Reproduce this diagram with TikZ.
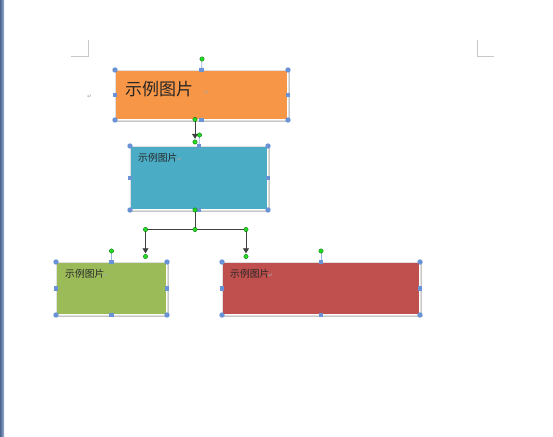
\documentclass[tikz,border=0pt]{standalone}
\usepackage{fontspec}
\newfontfamily\cjk{Noto Sans CJK SC}
\newfontfamily\dvs{DejaVu Sans}
\usetikzlibrary{arrows.meta}
\definecolor{cOrange}{HTML}{F79646}
\definecolor{cBlue}{HTML}{4BACC6}
\definecolor{cGreen}{HTML}{9BBB59}
\definecolor{cRed}{HTML}{C0504D}
\definecolor{cHandle}{HTML}{6A93D6}
\definecolor{cDot}{HTML}{22DD22}
\definecolor{cMark}{HTML}{C8C8C8}
\definecolor{cBar}{HTML}{5A7DB5}
\tikzset{
  shapebox/.style={draw=white, line width=1.6pt, inner sep=0pt, outer sep=0pt, anchor=north west},
  boxframe/.style={draw=black!12, line width=0.6pt},
  boxshadow/.style={fill=black!22},
  handle/.style={fill=cHandle},
  rothandle/.style={draw=cHandle!70, line width=0.8pt},
  greendot/.style={fill=cDot, draw=green!40!black, line width=0.3pt},
  conn/.style={draw=black!75, line width=0.8pt},
  arr/.style={conn, -{Triangle[width=6pt,length=5pt]}},
  bigtext/.style={font=\cjk\fontsize{17}{17}\selectfont, anchor=west, inner sep=0pt, text=black!85},
  smalltext/.style={font=\cjk\fontsize{9.8}{10}\selectfont, anchor=west, inner sep=0pt, text=black!85},
  retmark/.style={font=\dvs\fontsize{6}{6}\selectfont, text=black!35, inner sep=0pt, anchor=west},
  cornermark/.style={draw=cMark, line width=0.8pt}
}
\newcommand{\boxhandles}[1]{%
  \foreach \a in {north west, north east, south west, south east}
    \fill[handle] (#1.\a) circle (2.7);
  \foreach \a in {north, south, west, east}
    \fill[handle] ([shift={(-2.4,-2.4)}]#1.\a) rectangle ++(4.8,4.8);
}
\begin{document}
\begin{tikzpicture}[x=1pt,y=-1pt]
\useasboundingbox (0,0) rectangle (553,436);
\fill[white] (0,0) rectangle (553,436);
% left window edge
\shade[left color=cBar!80!black, right color=cBar!60] (0,0) rectangle (4,436);
% page corner marks
\draw[cornermark] (88,40) -- (88,56) -- (71,56);
\draw[cornermark] (477,40) -- (477,56) -- (494,56);
\node[retmark] (pm) at (87,97) {↵};

% shadows
\fill[boxshadow] (116.5,71.5) rectangle (289.5,121.5);
\fill[boxshadow] (131.5,147.5) rectangle (269.5,211.5);
\fill[boxshadow] (57.5,263.5) rectangle (168.5,316.5);
\fill[boxshadow] (223.5,263.5) rectangle (421.5,316.5);

% boxes
\node[shapebox, fill=cOrange, minimum width=173pt, minimum height=50pt] (o) at (115,70) {};
\node[shapebox, fill=cBlue, minimum width=138pt, minimum height=64pt] (b) at (130,146) {};
\node[shapebox, fill=cGreen, minimum width=111pt, minimum height=53pt] (g) at (56,262) {};
\node[shapebox, fill=cRed, minimum width=198pt, minimum height=53pt] (r) at (222,262) {};
\foreach \n in {o,b,g,r}
  \draw[boxframe] (\n.north west) rectangle (\n.south east);

% texts
\node[bigtext] (ot) at (125,89) {示例图片};
\node[retmark] (or) at (204,93) {↵};
\node[smalltext] (bt) at (138,158) {示例图片};
\node[retmark] (br) at (177,160) {↵};
\node[smalltext] (gt) at (65,274) {示例图片};
\node[retmark] (gr) at (103,276) {↵};
\node[smalltext] (rt) at (230,274) {示例图片};
\node[retmark] (rr) at (268,276) {↵};

% connectors
\coordinate (c0) at (195,119.5);
\coordinate (c1) at (195,142);
\coordinate (d0) at (195,210);
\coordinate (dm) at (195,229.5);
\coordinate (dl) at (145.5,229.5);
\coordinate (dr) at (246,229.5);
\coordinate (el) at (145.5,256.5);
\coordinate (er) at (246,256.5);
\draw[arr] (c0) -- ([yshift=3.2pt]c1);
\draw[conn] (d0) -- (dm);
\draw[conn] (dl) -- (dr);
\draw[arr] (dl) -- ([yshift=3.2pt]el);
\draw[arr] (dr) -- ([yshift=3.2pt]er);

% rotation handles
\coordinate (ro) at (202,59);
\coordinate (rb) at (199.5,135);
\coordinate (rg) at (111.5,251);
\coordinate (rr2) at (321,251);
\draw[rothandle] (ro) -- (o.north);
\draw[rothandle] (rb) -- (b.north);
\draw[rothandle] (rg) -- (g.north);
\draw[rothandle] (rr2) -- (r.north);

% selection handles
\boxhandles{o}
\boxhandles{b}
\boxhandles{g}
\boxhandles{r}

% green dots
\foreach \p in {ro, rb, rg, rr2, c0, c1, d0, dm, dl, dr, el, er}
  \filldraw[greendot] (\p) circle (2.2);
\end{tikzpicture}
\end{document}
